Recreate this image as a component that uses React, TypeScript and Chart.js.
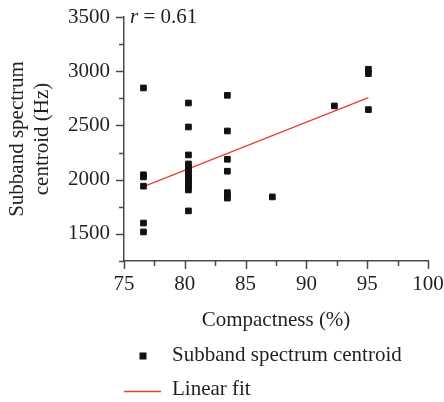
import React, { useEffect, useRef } from 'react';
import { Chart, registerables } from 'chart.js';

Chart.register(...registerables);

// Compactness (%) of each sample
const compactness = [
  76.6, 76.6, 76.6, 76.6, 76.6, 76.6,
  80.3, 80.3, 80.3, 80.3, 80.3, 80.3, 80.3, 80.3, 80.3, 80.3, 80.3, 80.3, 80.3, 80.3,
  83.5, 83.5, 83.5, 83.5, 83.5, 83.5, 83.5,
  87.2,
  92.3,
  95.1, 95.1, 95.1,
];
// Subband spectrum centroid (Hz) of each sample
const centroid = [
  2846, 2045, 2025, 1940, 1600, 1518,
  2707, 2486, 2228, 2145, 2115, 2085, 2055, 2025, 1995, 1965, 1935, 1905, 1712, 2005,
  2778, 2449, 2188, 2078, 1880, 1855, 1830,
  1841,
  2680,
  3018, 2978, 2646,
];
// Linear fit end points
const fitX = [76.6, 95.1];
const fitY = [1935, 2757];

const xMin = 75, xMax = 100, xStep = 2.5, xMajor = 5;
const yMin = 1250, yMax = 3500, yStep = 250, yMajor = 500;

const seriesLabels = ['Subband spectrum centroid', 'Linear fit'];
const xTitle = 'Compactness (%)';
const yTitle = ['Subband spectrum', 'centroid (Hz)'];
const rValue = '0.61';

const FONT = "'Liberation Serif', 'Times New Roman', serif";
const FS = 21;
const TEXT = '#231f20';
const AXIS = '#4a4a4a';
const RED = '#e8402f';

const decor = {
  id: 'decor',
  afterDraw(chart: any) {
    const ctx = chart.ctx as CanvasRenderingContext2D;
    const xs = chart.scales.x;
    const ys = chart.scales.y;
    ctx.save();
    ctx.strokeStyle = AXIS;
    ctx.lineWidth = 1.5;
    xs.ticks.forEach((t: any) => {
      const px = Math.round(xs.getPixelForValue(t.value)) + 0.5;
      const major = Math.abs(t.value % xMajor) < 1e-6;
      ctx.beginPath();
      ctx.moveTo(px, xs.top);
      ctx.lineTo(px, xs.top + (major ? 8 : 5));
      ctx.stroke();
    });
    ys.ticks.forEach((t: any) => {
      const py = Math.round(ys.getPixelForValue(t.value)) + 0.5;
      const major = Math.abs(t.value % yMajor) < 1e-6;
      ctx.beginPath();
      ctx.moveTo(ys.right, py);
      ctx.lineTo(ys.right - (major ? 8 : 5), py);
      ctx.stroke();
    });

    // r annotation
    ctx.fillStyle = TEXT;
    ctx.textBaseline = 'middle';
    ctx.textAlign = 'left';
    ctx.font = `italic ${FS}px ${FONT}`;
    const rx = 130;
    const ry = chart.chartArea.top;
    ctx.fillText('r', rx, ry);
    const rw = ctx.measureText('r').width;
    ctx.font = `${FS}px ${FONT}`;
    ctx.fillText(` = ${rValue}`, rx + rw, ry);

    // legend
    const ds0 = chart.data.datasets[0];
    const ds1 = chart.data.datasets[1];
    ctx.fillStyle = ds0.backgroundColor;
    ctx.fillRect(139.5, 352.5, 7, 7);
    ctx.fillStyle = TEXT;
    ctx.font = `${FS}px ${FONT}`;
    ctx.fillText(ds0.label, 172, 355);
    ctx.strokeStyle = ds1.borderColor;
    ctx.lineWidth = 1.3;
    ctx.beginPath();
    ctx.moveTo(124, 391.5);
    ctx.lineTo(161, 391.5);
    ctx.stroke();
    ctx.fillText(ds1.label, 172, 389);
    ctx.restore();
  },
};

export default function App() {
  const ref = useRef<HTMLCanvasElement>(null);
  useEffect(() => {
    if (!ref.current) return;
    const points = compactness.map((x, i) => ({ x, y: centroid[i] }));
    const fit = fitX.map((x, i) => ({ x, y: fitY[i] }));
    const chart = new Chart(ref.current, {
      type: 'scatter',
      data: {
        datasets: [
          {
            label: seriesLabels[0],
            data: points,
            backgroundColor: '#111111',
            borderColor: '#111111',
            borderWidth: 1,
            pointStyle: 'rect',
            pointRadius: 4,
          },
          {
            type: 'line',
            label: seriesLabels[1],
            data: fit,
            borderColor: RED,
            backgroundColor: RED,
            borderWidth: 1.3,
            pointRadius: 0,
            showLine: true,
            fill: false,
          } as any,
        ],
      },
      options: {
        animation: false,
        responsive: false,
        layout: { padding: { left: 0, top: 17, right: 16, bottom: 0 } },
        plugins: { legend: { display: false }, tooltip: { enabled: false } },
        scales: {
          x: {
            type: 'linear',
            min: xMin,
            max: xMax,
            grid: { display: false, tickLength: 8 },
            border: { display: true, color: AXIS, width: 1.5 },
            ticks: {
              stepSize: xStep,
              padding: 3,
              color: TEXT,
              font: { family: FONT, size: FS },
              maxRotation: 0,
              autoSkip: false,
              callback: (v: any) => (Math.abs(Number(v) % xMajor) < 1e-6 ? String(v) : ''),
            },
            title: {
              display: true,
              text: xTitle,
              color: TEXT,
              font: { family: FONT, size: FS },
              padding: { top: 0, bottom: 69 },
            },
            afterFit: (s: any) => {
              s.height = 141;
              s.paddingLeft = 0;
              s.paddingRight = 0;
            },
          },
          y: {
            type: 'linear',
            min: yMin,
            max: yMax,
            grid: { display: false, tickLength: 8 },
            border: { display: true, color: AXIS, width: 1.5 },
            ticks: {
              stepSize: yStep,
              padding: 6,
              color: TEXT,
              font: { family: FONT, size: FS },
              autoSkip: false,
              callback: (v: any) => (Math.abs(Number(v) % yMajor) < 1e-6 ? String(v) : ''),
            },
            title: {
              display: true,
              text: yTitle,
              color: TEXT,
              font: { family: FONT, size: FS },
              padding: { top: 4.4, bottom: 0 },
            },
            afterFit: (s: any) => {
              s.width = 124;
              s.paddingTop = 0;
              s.paddingBottom = 0;
            },
          },
        },
      },
      plugins: [decor],
    });
    return () => chart.destroy();
  }, []);
  return (
    <div style={{ position: 'absolute', left: 0, top: 0, width: 444, height: 402, background: '#fff' }}>
      <canvas ref={ref} width={444} height={402} style={{ display: 'block' }} />
    </div>
  );
}
